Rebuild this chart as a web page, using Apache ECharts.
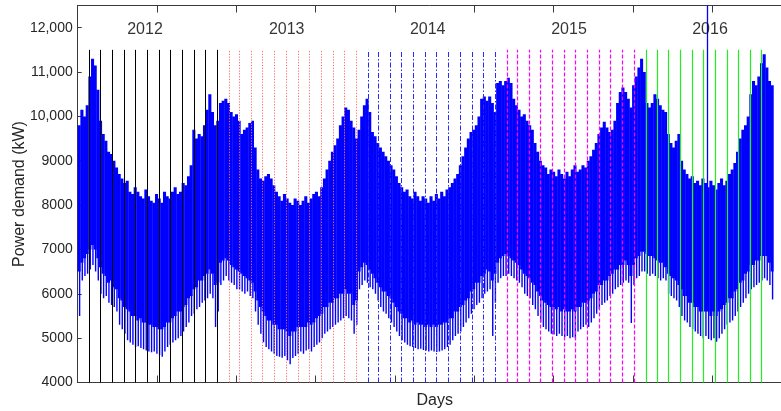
<!DOCTYPE html>
<html>
<head>
<meta charset="utf-8">
<script src="https://cdn.jsdelivr.net/npm/echarts@6/dist/echarts.min.js"></script>
<style>
  html, body { margin: 0; padding: 0; background: #ffffff; }
  #chart { width: 781px; height: 411px; }
</style>
</head>
<body>
<div id="chart"></div>
<script>
// Weekly power demand envelopes (kW), one entry per week from 1 Jan 2012.
// weeklyPeak: highest demand in the week
const weeklyPeak = [
  9800,10150,10000,10250,10900,11300,11150,10600,9900,9600,9450,9200,9150,9000,8850,8700,8600,8500,8550,8300,
  8250,8400,8300,8200,8150,8350,8200,8100,8050,8250,8150,8050,8300,8200,8150,8300,8400,8250,8300,8500,
  8450,8650,8900,9700,9500,9600,9550,9800,10150,10500,10100,9800,9900,
  10300,10350,10400,10300,10100,10000,10050,9900,9600,9700,9750,9850,9900,9300,8800,8600,8550,8650,8700,8600,
  8450,8300,8200,8100,8250,8150,8050,8000,8150,8100,8000,8100,8200,8050,8150,8250,8300,8200,8400,8600,
  8800,9000,9200,9350,9500,9800,10000,10200,10150,9900,9750,9500,
  9700,10000,10250,10400,10100,9650,9550,9400,9300,9200,9100,9000,8900,8800,8650,8500,8400,8300,8350,8200,
  8150,8300,8200,8100,8200,8150,8050,8200,8100,8250,8150,8300,8200,8350,8400,8500,8600,8700,8900,9100,
  9300,9500,9650,9700,9800,10000,10400,10450,10350,10450,10300,10100,
  10750,10800,10700,10800,10870,10750,10400,10250,10150,10000,10050,9900,9800,9700,9400,9200,9000,8900,8850,8700,
  8800,8750,8650,8800,8700,8600,8750,8650,8800,8900,8750,8800,8900,8850,9000,9100,9250,9400,9600,9750,
  9880,9750,9650,9700,9900,10300,10550,10650,10550,10400,10200,10700,
  10900,11100,11300,11000,10300,10200,10300,10500,10400,10250,10150,10100,9600,9400,9300,9450,9600,9000,8800,8700,
  8600,8650,8500,8550,8450,8600,8500,8400,8550,8450,8350,8500,8600,8450,8550,8700,8800,8950,9200,9500,
  9700,9800,10000,10500,10800,10700,10900,11200,11400,11100,10800,10700
];
// weeklyBodyLow: level the weekday load stays above
const weeklyBodyLow = [
  6500,6700,6800,6900,7000,7100,7000,6800,6600,6450,6400,6250,6300,6150,6100,5900,5850,5700,5650,5600,
  5500,5500,5400,5450,5350,5350,5300,5300,5250,5250,5200,5200,5250,5350,5350,5450,5500,5600,5600,5700,
  5750,5900,5950,6100,6150,6300,6300,6400,6450,6550,6450,6200,6250,
  6700,6750,6800,6750,6650,6600,6550,6500,6450,6400,6350,6300,6250,6050,5850,5700,5600,5500,5400,5400,
  5300,5300,5200,5200,5200,5150,5050,5150,5150,5250,5250,5250,5250,5350,5300,5350,5450,5500,5550,5700,
  5700,5800,5800,5900,5900,6000,6000,6100,6000,6000,5750,5850,
  6500,6600,6700,6650,6550,6450,6350,6250,6150,6050,6050,5950,5900,5800,5700,5600,5550,5450,5450,5350,
  5400,5300,5350,5300,5300,5250,5300,5250,5300,5250,5300,5300,5350,5350,5450,5450,5600,5600,5700,5750,
  5850,5900,6050,6100,6250,6250,6400,6450,6550,6500,6300,6450,
  6700,6800,6850,6900,6850,6800,6750,6700,6650,6550,6450,6400,6350,6250,6200,6050,5950,5850,5800,5750,
  5700,5700,5650,5700,5600,5650,5600,5600,5650,5600,5700,5700,5800,5800,5850,5900,6000,6050,6200,6200,
  6300,6300,6400,6450,6550,6550,6650,6650,6750,6650,6400,6650,
  6800,6850,6950,6950,6900,6850,6850,6800,6750,6700,6700,6600,6450,6400,6350,6300,6200,6100,5950,5950,
  5800,5800,5700,5700,5600,5600,5600,5600,5500,5600,5500,5600,5650,5750,5800,5900,5900,6050,6100,6250,
  6300,6450,6500,6650,6650,6750,6750,6850,6850,6850,6700,6500
];
// weeklyTroughLow: deepest dip of the week (nights, weekends, holidays)
const weeklyTroughLow = [
  5500,6300,6400,6450,6550,6650,6500,6300,6000,5900,5950,5800,5750,5700,5600,5300,5200,5100,4950,4900,
  4850,4800,4820,4780,4750,4720,4700,4680,4700,4650,4620,4580,4700,4800,4850,4900,4950,5000,5050,5150,
  5250,5350,5500,5550,5650,5700,5800,5850,5900,6000,5900,5250,5600,
  6200,6300,6400,6300,6250,6200,6100,6100,6050,6000,6050,5950,5900,5600,5300,5100,4910,4800,4750,4700,
  4650,4600,4580,4560,4600,4500,4410,4550,4600,4650,4700,4650,4720,4750,4700,4800,4850,4900,5000,5100,
  5150,5200,5250,5300,5350,5400,5450,5500,5450,5400,5100,5300,
  6100,6200,6300,6250,6150,6100,6000,5850,5700,5600,5550,5450,5350,5250,5150,5050,4950,4900,4850,4820,
  4800,4780,4750,4760,4730,4720,4700,4720,4700,4690,4700,4720,4750,4800,4850,4950,5050,5100,5150,5250,
  5350,5450,5550,5650,5750,5800,5900,6000,6050,6100,5050,5800,
  6250,6350,6400,6400,6450,6400,6350,6300,6250,6150,6000,5950,5900,5750,5650,5500,5350,5250,5200,5150,
  5100,5080,5050,5100,5050,5020,5050,5000,5020,5000,5150,5200,5250,5300,5250,5350,5450,5550,5650,5750,
  5800,5850,5950,6000,6100,6150,6200,6250,6300,6250,5340,6200,
  6350,6400,6500,6500,6450,6400,6450,6400,6350,6300,6350,6300,6000,5950,5900,5850,5700,5500,5400,5350,
  5250,5200,5150,5100,5050,5000,5050,4980,4950,5000,4920,5000,5100,5200,5300,5350,5400,5500,5600,5700,
  5800,5900,6000,6100,6150,6200,6250,6300,6350,6300,6200,5870
];

const years = [2012, 2013, 2014, 2015, 2016];
const yearLabelHour = [4242, 13174, 22061, 30968, 39855];
const yearLabelLevel = 11950;
const splitHour = 39685;          // start of the hold-out period
const monthMarkLow = 4000;
const monthMarkHigh = 11500;

const HOURS_PER_WEEK = 168;
const DATA_END_HOUR = weeklyPeak.length * HOURS_PER_WEEK;
const T0 = Date.UTC(2012, 0, 1);
const BLUE = '#0000ff';
const INK = '#262626';
const FONT = 'Liberation Sans, Arial, sans-serif';

// month boundaries (Feb 1 .. Jan 1 of next year) for one year, in hours since 1 Jan 2012
function monthBoundaries(year) {
  const out = [];
  for (let m = 1; m <= 12; m++) {
    const h = (Date.UTC(year, m, 1) - T0) / 3.6e6;
    if (h < DATA_END_HOUR) out.push(h);
  }
  return out;
}

const yearLineStyles = [
  { color: '#000000', width: 1, type: 'solid' },
  { color: '#ff6a6a', width: 1, type: [1.2, 1.6] },
  { color: '#2a2aff', width: 1, type: [5, 2, 1.5, 2] },
  { color: '#ff00ff', width: 1.2, type: [4, 2] },
  { color: '#22ee22', width: 1.2, type: 'solid' }
];

const demandSeries = {
  type: 'custom',
  coordinateSystem: 'cartesian2d',
  clip: true,
  silent: true,
  z: 2,
  data: weeklyPeak.map((p, i) => [i * HOURS_PER_WEEK, p, weeklyBodyLow[i], weeklyTroughLow[i]]),
  encode: { x: 0, y: [1, 2, 3] },
  renderItem(params, api) {
    const h0 = api.value(0);
    const h1 = h0 + HOURS_PER_WEEK;
    const top = api.coord([h0, api.value(1)]);
    const body = api.coord([h1, api.value(2)]);
    const dip = api.coord([h0 + 0.72 * HOURS_PER_WEEK, api.value(3)]);
    return {
      type: 'group',
      children: [
        { type: 'rect', shape: { x: top[0], y: top[1], width: body[0] - top[0] + 0.4, height: body[1] - top[1] },
          style: { fill: BLUE } },
        { type: 'rect', shape: { x: dip[0] - 0.7, y: body[1] - 0.5, width: 1.4, height: dip[1] - body[1] + 0.5 },
          style: { fill: BLUE } }
      ]
    };
  }
};

const monthSeries = years.map((y, k) => ({
  type: 'lines',
  coordinateSystem: 'cartesian2d',
  silent: true,
  z: 5,
  polyline: false,
  data: monthBoundaries(y).map(h => ({ coords: [[h, monthMarkLow], [h, monthMarkHigh]] })),
  lineStyle: Object.assign({ opacity: 1 }, yearLineStyles[k])
}));

const splitSeries = {
  type: 'lines',
  coordinateSystem: 'cartesian2d',
  silent: true,
  z: 6,
  data: [{ coords: [[splitHour, 7000], [splitHour, 12500]] }],
  lineStyle: { color: BLUE, width: 1.3, type: 'solid', opacity: 1 }
};

const yearLabelSeries = {
  type: 'scatter',
  silent: true,
  z: 7,
  symbolSize: 0,
  data: years.map((y, i) => ({ name: String(y), value: [yearLabelHour[i], yearLabelLevel] })),
  label: {
    show: true, position: 'inside', formatter: p => p.name,
    color: '#000000', fontFamily: FONT, fontSize: 16
  }
};

function yLabel(v) {
  if (v > 12000) return '';
  if (v >= 10000) return Math.floor(v / 1000) + ',' + String(v % 1000).padStart(3, '0');
  return String(v);
}

const chart = echarts.init(document.getElementById('chart'), null, { renderer: 'canvas' });
chart.setOption({
  animation: false,
  backgroundColor: '#ffffff',
  grid: { left: 77.7, right: -10.6, top: 5.5, bottom: 28.5, containLabel: false, outerBoundsMode: 'none' },
  xAxis: [
    {
      type: 'value', min: 0, max: 45000, interval: 5000, position: 'bottom',
      name: 'Days', nameLocation: 'middle', nameGap: 10, nameMoveOverlap: false,
      nameTextStyle: { color: INK, fontSize: 16, fontFamily: FONT },
      axisLine: { show: true, onZero: false, lineStyle: { color: '#3a3a3a', width: 1 } },
      axisTick: { show: true, inside: true, length: 7, lineStyle: { color: '#3a3a3a' } },
      axisLabel: { show: false },
      splitLine: { show: false }
    },
    {
      type: 'value', min: 0, max: 45000, interval: 5000, position: 'top',
      axisLine: { show: true, onZero: false, lineStyle: { color: '#3a3a3a', width: 1 } },
      axisTick: { show: true, inside: true, length: 7, lineStyle: { color: '#3a3a3a' } },
      axisLabel: { show: false },
      splitLine: { show: false }
    }
  ],
  yAxis: {
    type: 'value', min: 4000, max: 12500, interval: 1000,
    name: 'Power demand (kW)', nameLocation: 'middle', nameGap: 50, nameMoveOverlap: false,
    nameTextStyle: { color: INK, fontSize: 16, fontFamily: FONT },
    axisLine: { show: true, onZero: false, lineStyle: { color: '#3a3a3a', width: 1 } },
    axisTick: { show: true, inside: true, length: 4, lineStyle: { color: '#3a3a3a' } },
    axisLabel: { color: INK, fontSize: 14, margin: 5, fontFamily: FONT, formatter: yLabel },
    splitLine: { show: false }
  },
  series: [demandSeries, ...monthSeries, splitSeries, yearLabelSeries]
});
</script>
</body>
</html>
